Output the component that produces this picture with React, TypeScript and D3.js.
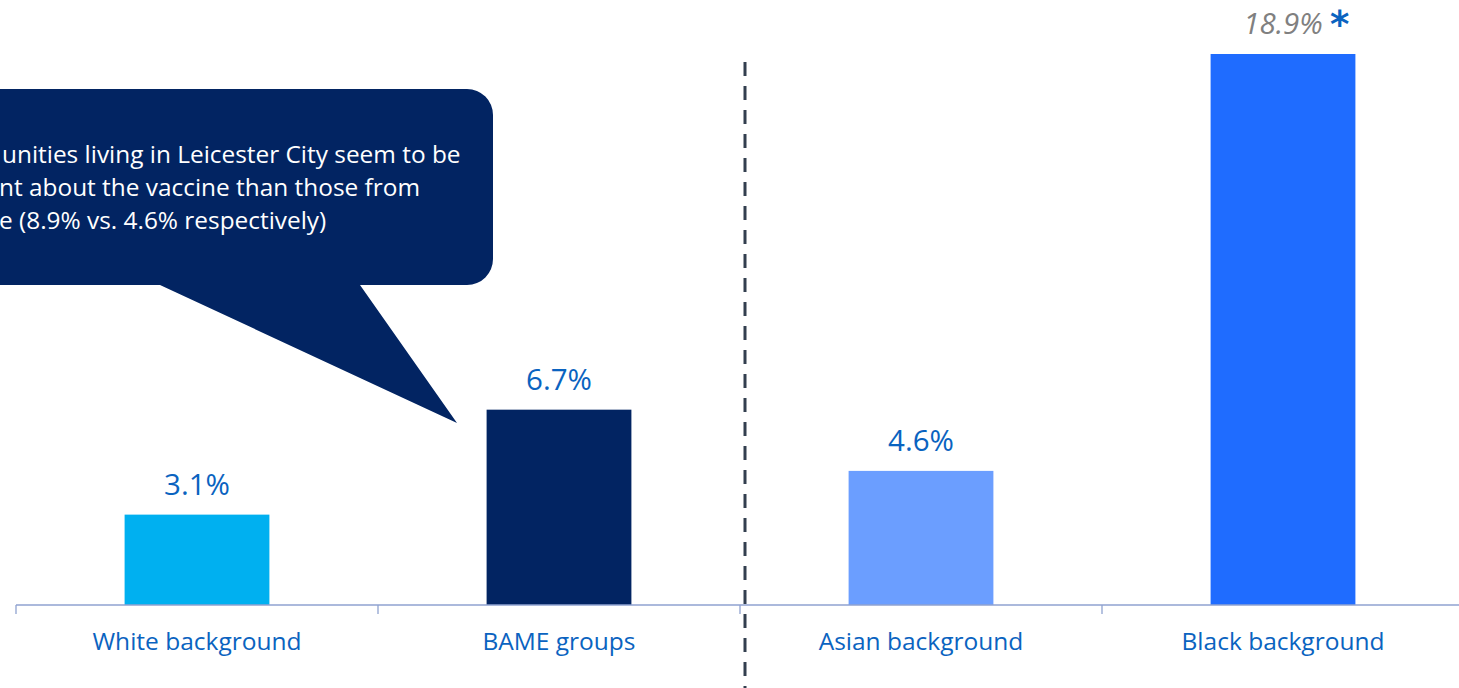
import React from "react";
import * as d3 from "d3";

const categories = ["White background", "BAME groups", "Asian background", "Black background"];
const values = [3.1, 6.7, 4.6, 18.9];
const valueLabels = ["3.1%", "6.7%", "4.6%", "18.9%"];
const barColors = ["#00B0F0", "#022462", "#6B9EFF", "#1F6CFF"];
const italicFlags = [false, false, false, true];
const noteMarks = ["", "", "", "*"];
const calloutLines = [
  "unities living in Leicester City seem to be",
  "nt about the vaccine than those from",
  "e (8.9% vs. 4.6% respectively)",
];

const W = 1459;
const H = 688;
const FONT = "'Open Sans', 'DejaVu Sans', sans-serif";

export default function App() {
  const x = d3
    .scaleBand<string>()
    .domain(categories)
    .range([16, 1464])
    .paddingInner(0.6)
    .paddingOuter(0.3);
  const y = d3.scaleLinear().domain([0, 18.9]).range([605, 54]);
  const step = x.step();
  const start = 16;
  const tickXs = d3.range(categories.length + 1).map((i) => start + i * step);
  const dividerX = 745;

  // callout shape
  const r = 26;
  const bx0 = -40, bx1 = 493, by0 = 89, by1 = 285;
  const p = d3.path();
  p.moveTo(bx0, by0);
  p.lineTo(bx1 - r, by0);
  p.arcTo(bx1, by0, bx1, by0 + r, r);
  p.lineTo(bx1, by1 - r);
  p.arcTo(bx1, by1, bx1 - r, by1, r);
  p.lineTo(360, by1);
  p.lineTo(457, 423);
  p.lineTo(160, by1);
  p.lineTo(bx0, by1);
  p.closePath();

  return (
    <svg
      width={W}
      height={H}
      style={{ position: "absolute", left: 0, top: 0, background: "#fff" }}
    >
      {/* bars */}
      {categories.map((c, i) => (
        <rect
          key={c}
          x={x(c)}
          y={y(values[i])}
          width={x.bandwidth()}
          height={y(0) - y(values[i])}
          fill={barColors[i]}
        />
      ))}
      {/* axis */}
      <line x1={16} x2={W} y1={y(0)} y2={y(0)} stroke="#8FA2D0" strokeWidth={1.3} />
      {tickXs.map((tx, i) => (
        <line key={i} x1={tx} x2={tx} y1={y(0)} y2={y(0) + 9} stroke="#8FA2D0" strokeWidth={1.3} />
      ))}
      {/* category labels */}
      {categories.map((c) => (
        <text
          key={c}
          x={(x(c) as number) + x.bandwidth() / 2}
          y={650}
          textAnchor="middle"
          fontFamily={FONT}
          fontSize={24.5}
          fill="#0A63C0"
        >
          {c}
        </text>
      ))}
      {/* value labels */}
      {categories.map((c, i) => {
        const cx = (x(c) as number) + x.bandwidth() / 2;
        return (
          <g key={c}>
            <text
              x={cx}
              y={y(values[i]) - 20}
              textAnchor="middle"
              fontFamily={FONT}
              fontSize={29.5}
              fontStyle={italicFlags[i] ? "italic" : "normal"}
              fill={italicFlags[i] ? "#808080" : "#0A63C0"}
            >
              {valueLabels[i]}
            </text>
            {noteMarks[i] && (
              <text
                x={cx + 47}
                y={y(values[i]) - 17}
                fontFamily="'DejaVu Sans', sans-serif"
                fontSize={37}
                fontWeight="bold"
                fill="#0A63C0"
              >
                {noteMarks[i]}
              </text>
            )}
          </g>
        );
      })}
      {/* dashed divider */}
      <line
        x1={dividerX}
        x2={dividerX}
        y1={62}
        y2={H}
        stroke="#333F4F"
        strokeWidth={3}
        strokeDasharray="14 10"
      />
      {/* callout */}
      <path d={p.toString()} fill="#022462" />
      {calloutLines.map((t, i) => (
        <text
          key={i}
          x={i === 0 ? 2 : -1}
          y={163 + i * 33}
          fontFamily={FONT}
          fontSize={24.4}
          fill="#FFFFFF"
        >
          {t}
        </text>
      ))}
    </svg>
  );
}
